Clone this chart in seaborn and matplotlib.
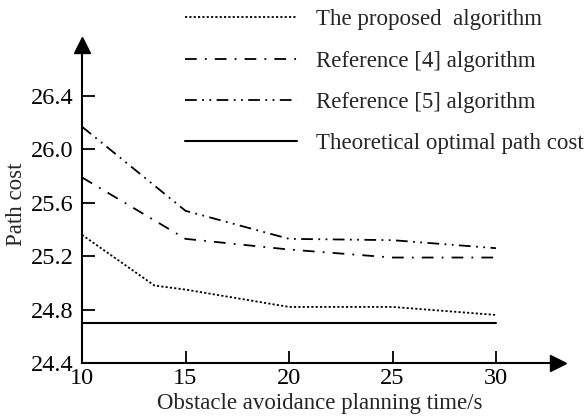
import matplotlib
matplotlib.use("Agg")
import matplotlib.pyplot as plt
import pandas as pd
import seaborn as sns

# values
planning_time = [10, 15, 20, 25, 30]
proposed_time = [10, 13.5, 15, 20, 25, 30]
proposed_cost = [25.36, 24.98, 24.95, 24.82, 24.82, 24.76]
ref4_cost = [25.79, 25.33, 25.25, 25.19, 25.19]
ref5_cost = [26.17, 25.54, 25.33, 25.32, 25.26]
optimal_cost = [24.70, 24.70, 24.70, 24.70, 24.70]

x_ticks = [10, 15, 20, 25, 30]
y_ticks = [24.4, 24.8, 25.2, 25.6, 26.0, 26.4]

labels = ["The proposed  algorithm", "Reference [4] algorithm",
          "Reference [5] algorithm", "Theoretical optimal path cost"]

sns.set_style("ticks")
plt.rcParams["font.family"] = ["Liberation Serif", "DejaVu Serif"]

W, H = 584, 416
fig = plt.figure(figsize=(W / 100, H / 100), dpi=100)
ax = fig.add_axes([82 / W, 1 - 363 / H, (558 - 82) / W, (363 - 45) / H])

df_prop = pd.DataFrame({"t": proposed_time, "cost": proposed_cost})
df_rest = pd.DataFrame({"t": planning_time, "r4": ref4_cost,
                        "r5": ref5_cost, "opt": optimal_cost})

sns.lineplot(data=df_prop, x="t", y="cost", ax=ax, color="black", lw=1.3,
             linestyle=(0, (1.2, 1.2)), label=labels[0])
sns.lineplot(data=df_rest, x="t", y="r4", ax=ax, color="black", lw=1.3,
             linestyle=(0, (6.5, 4.5, 1, 4.5)), label=labels[1])
sns.lineplot(data=df_rest, x="t", y="r5", ax=ax, color="black", lw=1.3,
             linestyle=(0, (6.5, 3, 1, 3, 1, 3)), label=labels[2])
sns.lineplot(data=df_rest, x="t", y="opt", ax=ax, color="black", lw=1.5,
             linestyle="-", label=labels[3])

ax.set_xlim(10, 10 + (558 - 82) / 20.7)
ax.set_ylim(24.4, 24.4 + (363 - 45) / 133.5)
ax.set_xticks(x_ticks)
ax.set_yticks(y_ticks)
ax.set_yticklabels([f"{v:.1f}" for v in y_ticks])
ax.tick_params(axis="both", direction="in", length=9, width=1.3,
               labelsize=17.5, colors="black")
ax.tick_params(axis="y", pad=6)
ax.tick_params(axis="x", pad=3.5)
ax.xaxis.get_major_ticks()[0].tick1line.set_visible(False)
ax.yaxis.get_major_ticks()[0].tick1line.set_visible(False)

for side in ["top", "right"]:
    ax.spines[side].set_visible(False)
for side in ["left", "bottom"]:
    ax.spines[side].set_linewidth(1.5)
    ax.spines[side].set_color("black")

# arrow heads on the axes
ax.plot(1, 0, ">", color="black", ms=11, transform=ax.transAxes, clip_on=False)
ax.plot(0, 1, "^", color="black", ms=11, transform=ax.transAxes, clip_on=False)

ax.set_xlabel("Obstacle avoidance planning time/s", fontsize=16.5, labelpad=3)
ax.set_ylabel("Path cost", fontsize=16.5, labelpad=3)

handles, lbls = ax.get_legend_handles_labels()
ax.get_legend().remove()
fig.legend(handles, lbls, loc="upper left", bbox_to_anchor=(164 / W, 1 + 11.5 / H),
           frameon=False, fontsize=16.5, handlelength=4.9, handletextpad=0.85,
           labelspacing=0.89)

fig.savefig("out.png", dpi=100)
